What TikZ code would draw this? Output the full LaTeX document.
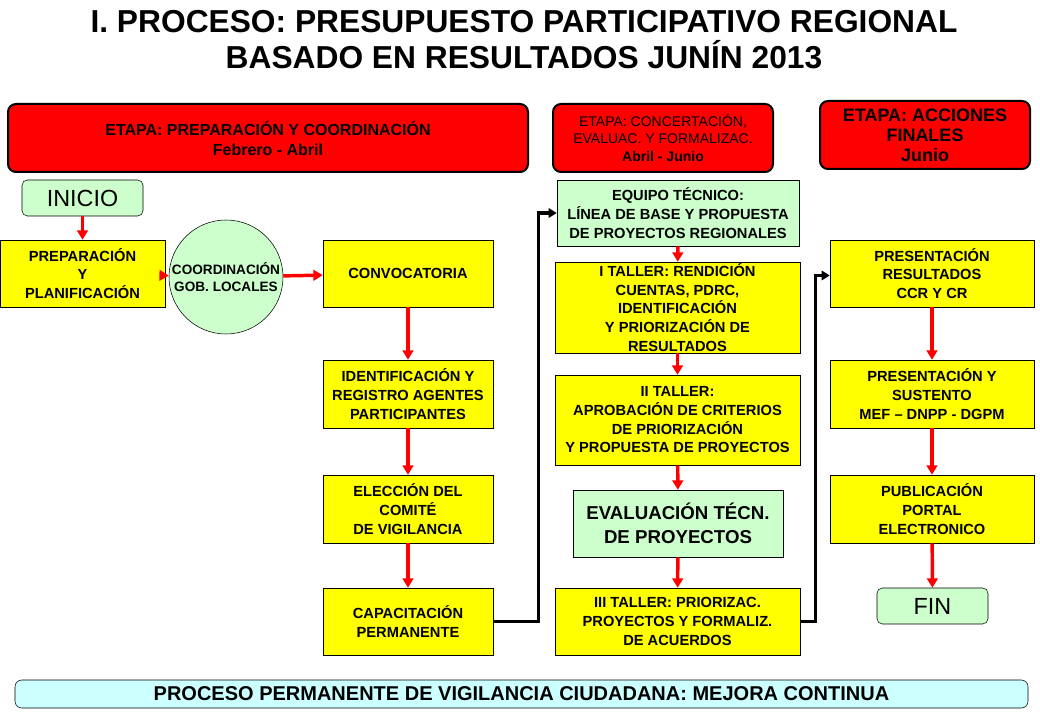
\documentclass[tikz,border=0pt]{standalone}
\usepackage{fontspec}
\setmainfont{Liberation Sans}
\usetikzlibrary{arrows.meta}
\definecolor{boxyellow}{RGB}{255,255,0}
\definecolor{boxgreen}{RGB}{204,255,204}
\definecolor{boxred}{RGB}{255,0,0}
\definecolor{boxcyan}{RGB}{204,255,255}
\tikzset{
  ybox/.style={draw=black, fill=boxyellow, align=center, inner sep=0pt, font=\bfseries\fontsize{11}{14}\selectfont},
  gbox/.style={draw=black, fill=boxgreen, align=center, inner sep=0pt},
  rbox/.style={draw=black, line width=1.5pt, fill=boxred, rounded corners=6pt, align=center, inner sep=0pt},
  redarrow/.style={draw=boxred, line width=2.6pt, -{Triangle[length=7pt,width=8pt]}},
  blkarrow/.style={draw=black, line width=2.5pt, -{Triangle[length=6pt,width=7pt]}}
}
\newcommand{\boxat}[5]{\node[#1, minimum width=#4*0.75pt, minimum height=#5*0.75pt] (#2) at (#3) }
\begin{document}
\begin{tikzpicture}[x=0.75pt,y=-0.75pt]
	\useasboundingbox (0,0) rectangle (1040,720);
	% titulo
	\node (title) at (524,40) [align=center, font=\bfseries\fontsize{23.8}{27}\selectfont] {I. PROCESO: PRESUPUESTO PARTICIPATIVO REGIONAL\\BASADO EN RESULTADOS JUNÍN 2013};
	% etapas
	\boxat{rbox, font=\bfseries\fontsize{12}{15}\selectfont}{e1}{268,138}{520}{68} {ETAPA: PREPARACIÓN Y COORDINACIÓN\\Febrero - Abril};
	\boxat{rbox, font=\fontsize{10.5}{13}\selectfont}{e2}{663,138}{220}{68} {ETAPA: CONCERTACIÓN,\\EVALUAC. Y FORMALIZAC.\\\bfseries Abril - Junio};
	\boxat{rbox, font=\bfseries\fontsize{13.5}{15}\selectfont}{e3}{925,135}{210}{68} {ETAPA: ACCIONES\\FINALES\\Junio};
	% columna 1 y 2
	\boxat{gbox, rounded corners=4pt, font=\fontsize{17.5}{20}\selectfont}{inicio}{82.5,198}{121}{36} {INICIO};
	\boxat{ybox}{prep}{82.5,273.5}{165}{67} {PREPARACIÓN\\Y\\PLANIFICACIÓN};
	\node[gbox, circle, minimum size=114*0.75pt, font=\bfseries\fontsize{10.2}{13}\selectfont] (coord) at (226,277) {COORDINACIÓN\\GOB. LOCALES};
	\boxat{ybox}{conv}{408,273.5}{170}{67} {CONVOCATORIA};
	\boxat{ybox}{ident}{408,394}{170}{68} {IDENTIFICACIÓN Y\\REGISTRO AGENTES\\PARTICIPANTES};
	\boxat{ybox}{elec}{408,509}{170}{68} {ELECCIÓN DEL\\COMITÉ\\DE VIGILANCIA};
	\boxat{ybox}{capac}{408,621.5}{170}{67} {CAPACITACIÓN\\PERMANENTE};
	% columna 3
	\boxat{gbox, font=\bfseries\fontsize{11}{14}\selectfont}{equipo}{678,213}{242}{66} {EQUIPO TÉCNICO:\\LÍNEA DE BASE Y PROPUESTA\\DE PROYECTOS REGIONALES};
	\boxat{ybox}{tallerA}{677.5,307.5}{245}{91} {I TALLER: RENDICIÓN\\CUENTAS, PDRC,\\IDENTIFICACIÓN\\Y PRIORIZACIÓN DE\\RESULTADOS};
	\boxat{ybox}{tallerB}{677.5,420}{245}{90} {II TALLER:\\APROBACIÓN DE CRITERIOS\\DE PRIORIZACIÓN\\Y PROPUESTA DE PROYECTOS};
	\boxat{gbox, font=\bfseries\fontsize{14}{18}\selectfont}{eval}{678,523.5}{210}{67} {EVALUACIÓN TÉCN.\\DE PROYECTOS};
	\boxat{ybox}{tallerC}{677.5,621.5}{245}{67} {III TALLER: PRIORIZAC.\\PROYECTOS Y FORMALIZ.\\DE ACUERDOS};
	% columna 4
	\boxat{ybox}{pres}{932,273.5}{204}{67} {PRESENTACIÓN\\RESULTADOS\\CCR Y CR};
	\boxat{ybox}{sust}{932,394}{204}{68} {PRESENTACIÓN Y\\SUSTENTO\\MEF – DNPP - DGPM};
	\boxat{ybox}{publ}{932,509}{204}{68} {PUBLICACIÓN\\PORTAL\\ELECTRONICO};
	\boxat{gbox, rounded corners=4pt, font=\fontsize{17.5}{20}\selectfont}{fin}{932.5,606}{111}{36} {FIN};
	% vigilancia
	\boxat{draw=black, fill=boxcyan, rounded corners=5pt, font=\bfseries\fontsize{15}{17}\selectfont}{vigil}{521.5,694}{1013}{28} {PROCESO PERMANENTE DE VIGILANCIA CIUDADANA: MEJORA CONTINUA};
	% flechas
	\draw[redarrow] (inicio) -- (prep);
	\draw[redarrow] (prep) -- (coord);
	\draw[redarrow] (coord) -- (conv);
	\draw[redarrow] (conv) -- (ident);
	\draw[redarrow] (ident) -- (elec);
	\draw[redarrow] (elec) -- (capac);
	\draw[redarrow] (equipo) -- (tallerA);
	\draw[redarrow] (tallerA) -- (tallerB);
	\draw[redarrow] (tallerB) -- (eval);
	\draw[redarrow] (eval) -- (tallerC);
	\draw[redarrow] (pres) -- (sust);
	\draw[redarrow] (sust) -- (publ);
	\draw[redarrow] (publ) -- (fin);
	\draw[blkarrow] (capac.east) -- ++(45,0) |- (equipo.west);
	\draw[blkarrow] (tallerC.east) -- ++(15,0) |- ([yshift=-1.5pt]pres.west);
\end{tikzpicture}
\end{document}
